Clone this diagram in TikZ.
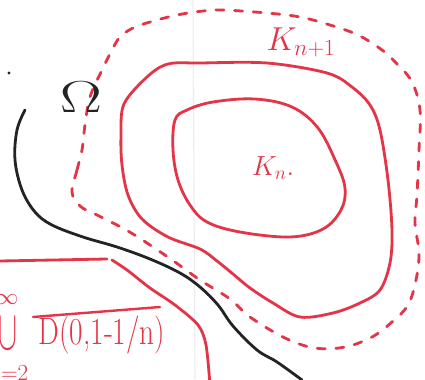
\documentclass[tikz,border=0pt]{standalone}
\usepackage{amsmath}
\definecolor{pen}{RGB}{228,52,72}
\definecolor{ink}{RGB}{35,35,35}
\definecolor{crease}{RGB}{236,236,236}
\tikzset{
  redline/.style={draw=pen,line width=2.1pt,line cap=round,line join=round},
  reddash/.style={redline,dash pattern=on 6pt off 8pt},
  inkline/.style={draw=ink,line width=2.1pt,line cap=round,line join=round},
  pentext/.style={text=pen,inner sep=0pt},
  inktext/.style={text=ink,inner sep=0pt},
}
\begin{document}
\begin{tikzpicture}[x=0.75pt,y=-0.75pt]
\useasboundingbox (0,0) rectangle (425,379);
\clip (0,0) rectangle (425,379);
\fill[white] (0,0) rectangle (425,379);
\draw[crease,line width=0.8pt] (193,0) -- (195,379);

% inner closed curve K_n
\draw[redline] plot[smooth cycle, tension=0.6] coordinates {(175,120) (173,150) (178,180) (190,205) (207,222) (240,232) (290,237) (323,229) (341,210) (345,188) (336,162) (318,128) (292,107) (255,99) (213,102) (187,110)};

% middle closed curve
\draw[redline] plot[smooth cycle, tension=0.55] coordinates {(124,104) (121,135) (122,165) (128,195) (142,219) (168,237) (200,249) (217,261) (233,274) (250,288) (273,303) (300,317) (333,313) (360,303) (380,290) (390,263) (392,230) (388,180) (380,130) (370,105) (352,87) (327,73) (267,63) (200,63) (168,64) (147,77)};

% dashed outer curve
\draw[reddash] plot[smooth cycle, tension=0.6] coordinates {(72,192) (77,170) (82,150) (85,125) (90,97) (102,70) (112,50) (120,37) (133,28) (150,22) (177,15) (203,11) (223,10) (267,13) (300,17) (330,25) (358,35) (382,50) (398,65) (412,82) (420,110) (419,150) (417,195) (415,223) (419,253) (416,280) (408,305) (392,322) (372,337) (345,347) (315,348) (285,338) (250,317) (230,299) (200,280) (175,262) (150,245) (133,234) (115,224) (95,214) (80,206)};

% black boundary curve
\draw[inkline] plot[smooth, tension=0.6] coordinates {(25,110) (17,130) (15,160) (22,190) (35,212) (52,225) (83,237) (117,247) (150,259) (180,273) (200,287) (218,305) (233,326) (257,350) (277,362) (302,380)};
\fill[ink] (9,73) circle (1.6);

% bottom-left region
\draw[redline] (0,261) -- (107,259);
\draw[redline] plot[smooth, tension=0.5] coordinates {(112,260) (127,270) (150,288) (175,305) (198,325) (206,345) (210,385)};
\draw[redline,line width=1.8pt] (33,317) -- (160,307);

% labels
\node[inktext,font=\fontsize{24.88}{26}\selectfont,xscale=1.9,yscale=1.35] (omega) at (81,97) {$\Omega$};
\node[pentext,font=\fontsize{24}{26}\selectfont] (knp) at (301,42) {$K_{n{+}1}$};
\node[pentext,font=\fontsize{22}{24}\selectfont] (kn) at (273,168) {$K_n.$};
\node[pentext,font=\fontsize{22}{24}\selectfont,yscale=1.3] (disk) at (102,335) {D(0,1-1/n)};
\node[pentext,font=\fontsize{24.88}{26}\selectfont,xscale=0.85,yscale=1.7] (cup) at (8,334) {$\cup$};
\node[pentext,font=\fontsize{17}{19}\selectfont] (inf) at (7,300) {$\infty$};
\node[pentext,font=\fontsize{17}{19}\selectfont] (low) at (8,373) {$n{=}2$};
\end{tikzpicture}
\end{document}
